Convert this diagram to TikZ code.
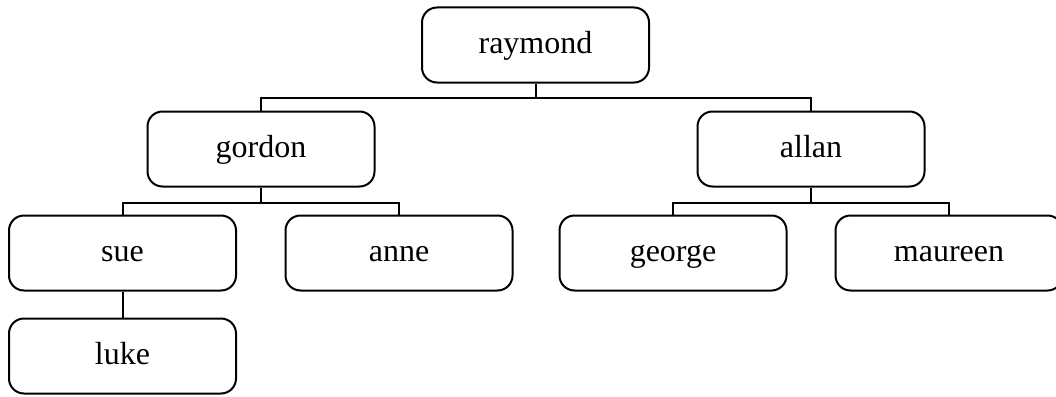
\documentclass[tikz,border=0pt]{standalone}
\usepackage{fontspec}
\setmainfont{Liberation Serif}
\begin{document}
\begin{tikzpicture}[x=1pt,y=-1pt,
  person/.style={draw, line width=2pt, rounded corners=15pt, minimum width=227pt, minimum height=75pt, font=\fontsize{32}{36}\selectfont, inner sep=0pt, text height=22pt, text depth=6pt},
  link/.style={line width=2pt}]
\useasboundingbox (0,0) rectangle (1056,396);
\clip (0,0) rectangle (1056,396);
\node[person] (raymond) at (535.5,45) {raymond};
\node[person] (gordon) at (261,149) {gordon};
\node[person] (allan) at (811,149) {allan};
\node[person] (sue) at (122.5,253) {sue};
\node[person] (anne) at (399,253) {anne};
\node[person] (george) at (673,253) {george};
\node[person] (maureen) at (949,253) {maureen};
\node[person] (luke) at (122.5,356) {luke};
\coordinate (j1) at (535.5,98);
\coordinate (j2) at (261,203);
\coordinate (j3) at (811,203);
\draw[link] (raymond.south) -- (j1);
\draw[link] (gordon.north) |- (j1) -| (allan.north);
\draw[link] (gordon.south) -- (j2);
\draw[link] (sue.north) |- (j2) -| (anne.north);
\draw[link] (allan.south) -- (j3);
\draw[link] (george.north) |- (j3) -| (maureen.north);
\draw[link] (sue.south) -- (luke.north);
\end{tikzpicture}
\end{document}
